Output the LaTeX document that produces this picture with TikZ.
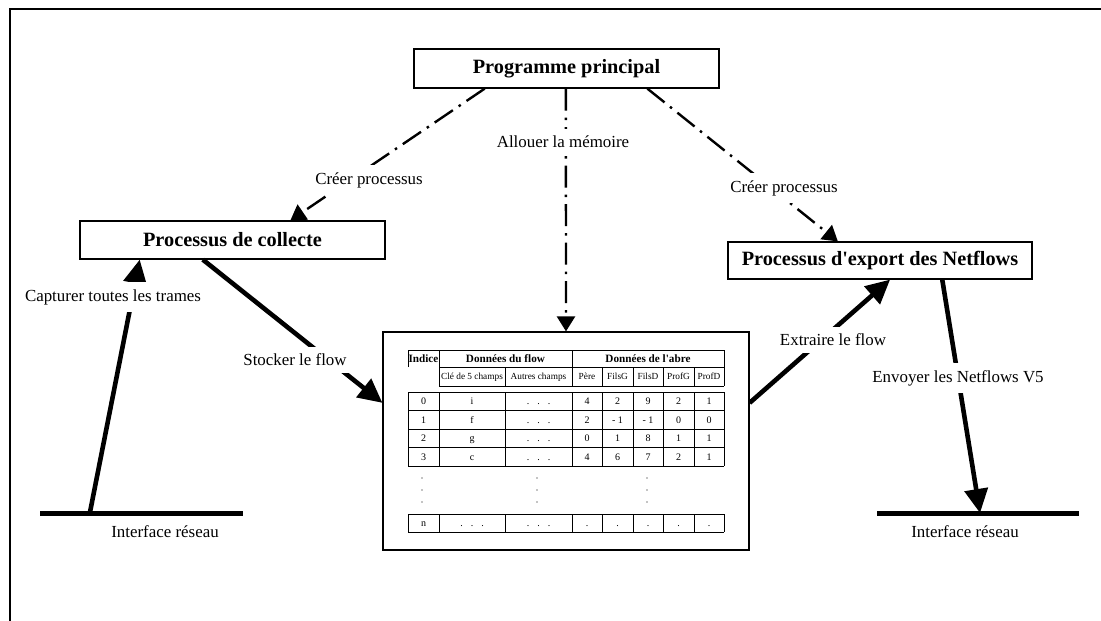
\documentclass[tikz,border=0pt]{standalone}
\usepackage{fontspec}
\setmainfont{Liberation Serif}
\usetikzlibrary{arrows.meta,calc}
\begin{document}
\begin{tikzpicture}[x=1pt,y=-1pt,
  box/.style={draw,line width=1.2pt,inner sep=0pt,font=\fontsize{20.3}{24}\selectfont\bfseries},
  lbl/.style={fill=white,inner xsep=2pt,inner ysep=7pt,font=\fontsize{16.9}{20}\selectfont},
  ctl/.style={line width=2.4pt,dash pattern=on 22pt off 7pt on 2.5pt off 7pt,
    -{Triangle[length=15pt,width=18pt]}},
  flow/.style={line width=4.6pt,-{Triangle[length=24pt,width=23pt]}},
  wire/.style={fill=black,inner sep=0pt,minimum height=5pt},
  tab/.style={line width=0.9pt},
  hd/.style={inner sep=0pt,text height=7.4pt,text depth=0pt,font=\fontsize{11.2}{13}\selectfont\bfseries},
  sub/.style={inner sep=0pt,text height=6.2pt,text depth=0pt,font=\fontsize{9.3}{11}\selectfont},
  cell/.style={inner sep=0pt,text height=6.6pt,text depth=0pt,font=\fontsize{10}{12}\selectfont}]
\useasboundingbox (0,0) rectangle (1101,621);

% frame
\draw[line width=1.3pt] (10,621) -- (10,9) -- (1101,9);

% processes
\node[box,minimum width=305pt,minimum height=39pt] (pp) at (566.5,68.5) {Programme principal};
\node[box,minimum width=305pt,minimum height=38pt] (coll) at (232.5,240) {Processus de collecte};
\node[box,minimum width=304pt,minimum height=37pt] (exp) at (880,260.5) {Processus d\textquotesingle export des Netflows};

% shared memory block
\node[draw,line width=1.2pt,minimum width=366pt,minimum height=218pt,inner sep=0pt] (mem) at (566,441) {};

% network interfaces
\node[wire,minimum width=203pt] (ifL) at (141.5,513) {};
\node[wire,minimum width=202pt] (ifR) at (978,513) {};
\node[font=\fontsize{16.9}{20}\selectfont,inner sep=0pt] (ifLt) at (165,532) {Interface réseau};
\node[font=\fontsize{16.9}{20}\selectfont,inner sep=0pt] (ifRt) at (965,532) {Interface réseau};

% control connectors
\draw[ctl] ($(pp.south west)!0.233!(pp.south east)$) -- ($(coll.north west)!0.689!(coll.north east)$);
\draw[ctl] ($(pp.south west)!0.764!(pp.south east)$) -- ($(exp.north west)!0.362!(exp.north east)$);
\draw[ctl] ($(pp.south west)!0.498!(pp.south east)$) -- (mem.north);

% data connectors
\draw[flow] ($(ifL.west)!0.246!(ifL.east)$) -- ($(coll.south west)!0.197!(coll.south east)$);
\draw[flow] ($(coll.south west)!0.403!(coll.south east)$) -- ($(mem.north west)!0.326!(mem.south west)$);
\draw[flow] ($(mem.north east)!0.326!(mem.south east)$) -- ($(exp.south west)!0.533!(exp.south east)$);
\draw[flow] ($(exp.south west)!0.704!(exp.south east)$) -- ($(ifR.west)!0.51!(ifR.east)$);

% connector labels
\node[lbl] (l1) at (369,180) {Créer processus};
\node[lbl] (l2) at (784,188) {Créer processus};
\node[lbl] (l3) at (563,142) {Allouer la mémoire};
\node[lbl] (l4) at (113,297) {Capturer toutes les trames};
\node[lbl] (l5) at (295,360) {Stocker le flow};
\node[lbl] (l6) at (833,340) {Extraire le flow};
\node[lbl] (l7) at (958,378) {Envoyer les Netflows V5};

% table header
\draw[tab] (408,367) -- (408,350) -- (724,350);
\draw[tab] (439,367) -- (724,367);
\draw[tab] (439,386) -- (724,386);
\foreach \x in {439,572,724} \draw[tab] (\x,350) -- (\x,386);
\foreach \x in {505,602,633,663,694} \draw[tab] (\x,367) -- (\x,386);
\node[hd] (hIdx) at (423.5,358.5) {Indice};
\node[hd] (hFlow) at (505.5,358.5) {Données du flow};
\node[hd] (hTree) at (648,358.5) {Données de l\textquotesingle abre};
\node[sub] (hKey) at (472,376.5) {Clé de 5 champs};
\node[sub] (hOth) at (538.5,376.5) {Autres champs};
\node[sub] (hPere) at (587,376.5) {Père};
\node[sub] (hFG) at (617.5,376.5) {FilsG};
\node[sub] (hFD) at (648,376.5) {FilsD};
\node[sub] (hPG) at (678.5,376.5) {ProfG};
\node[sub] (hPD) at (709,376.5) {ProfD};

% table body
\foreach \x in {408,439,505,572,602,633,663,694,724} {
  \draw[tab] (\x,392) -- (\x,466);
  \draw[tab] (\x,514) -- (\x,532);
}
\foreach \y in {392,410.5,429,447.5,466,514,532} \draw[tab] (408,\y) -- (724,\y);
\foreach \r/\y/\key/\p/\fg/\fd/\pg/\pd in {
  0/401.25/i/4/2/9/2/1,
  1/419.75/f/2/- 1/- 1/0/0,
  2/438.25/g/0/1/8/1/1,
  3/456.75/c/4/6/7/2/1} {
  \node[cell] (idx\r) at (423.5,\y) {\r};
  \node[cell] (key\r) at (472,\y) {\key};
  \node[cell] (oth\r) at (538.5,\y) {.\hspace{8pt}.\hspace{8pt}.};
  \node[cell] (pere\r) at (587,\y) {\p};
  \node[cell] (fg\r) at (617.5,\y) {\fg};
  \node[cell] (fd\r) at (648,\y) {\fd};
  \node[cell] (pg\r) at (678.5,\y) {\pg};
  \node[cell] (pd\r) at (709,\y) {\pd};
}
% elided rows
\foreach \x in {422,537,647} \foreach \y in {478,490,502} \fill (\x,\y) circle (0.6pt);
% last row
\node[cell] (idxn) at (423.5,523) {n};
\node[cell] (keyn) at (472,523) {.\hspace{8pt}.\hspace{8pt}.};
\node[cell] (othn) at (538.5,523) {.\hspace{8pt}.\hspace{8pt}.};
\foreach \x/\n in {587/pere,617.5/fg,648/fd,678.5/pg,709/pd}
  \node[cell] (\n n) at (\x,523) {.};
\end{tikzpicture}
\end{document}
